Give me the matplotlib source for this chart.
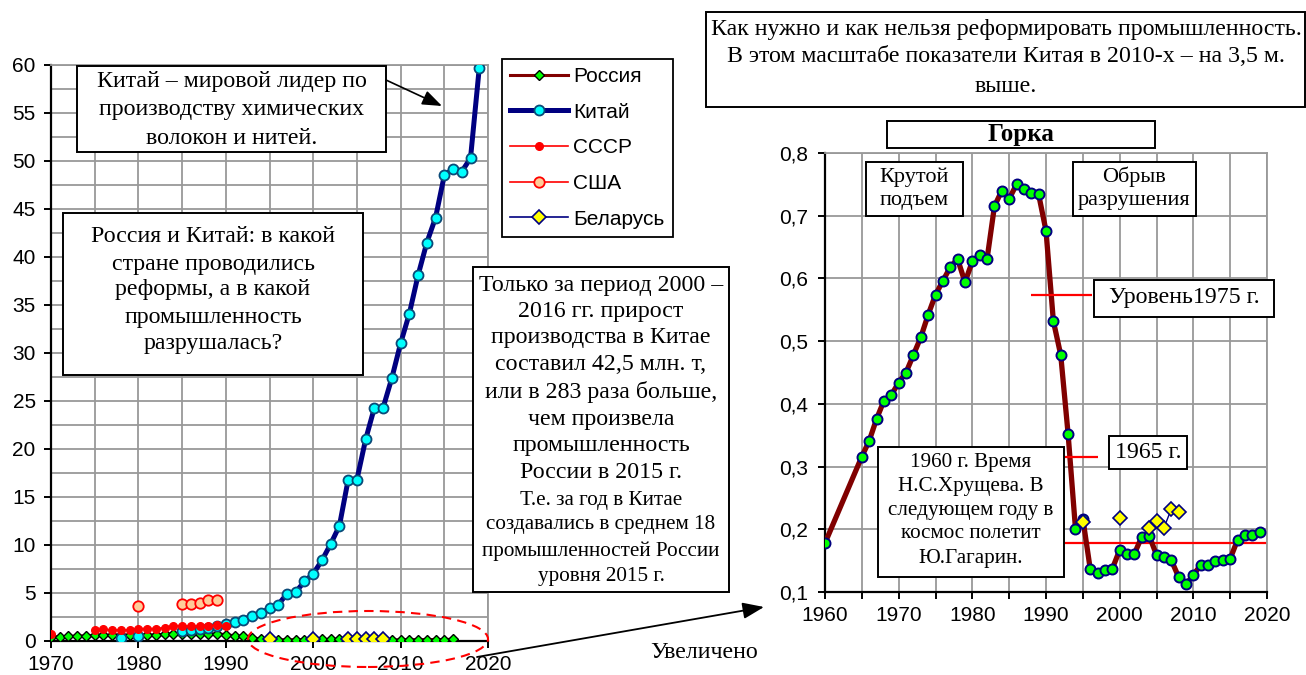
import numpy as np
import matplotlib
matplotlib.use('Agg')
import matplotlib.pyplot as plt
from matplotlib.patches import Rectangle, Ellipse, FancyArrowPatch
from matplotlib.ticker import MultipleLocator, FuncFormatter

nan = np.nan

# ---------------- data ----------------
russia_years = [1960] + list(range(1965, 2020))
russia_vals = [0.178,
               0.316, 0.341, 0.376, 0.405, 0.414,
               0.434, 0.450, 0.478, 0.506, 0.542, 0.574, 0.596, 0.618, 0.631, 0.594,
               0.627, 0.638, 0.631, 0.715, 0.740, 0.727, 0.750, 0.743, 0.737, 0.734,
               0.676, 0.532, 0.478, 0.352, 0.201, 0.217, 0.137, 0.130, 0.135, 0.137,
               0.167, 0.160, 0.161, 0.188, 0.190, 0.159, 0.156, 0.151, 0.124, 0.112,
               0.127, 0.143, 0.143, 0.150, 0.151, 0.153, 0.183, 0.191, 0.191, 0.195]

china_years = list(range(1978, 2020))
china_vals = [0.30, nan, 0.50, nan, nan, nan, nan,
              1.05, 1.15, 1.20, 1.40, 1.60, 1.77, 2.00, 2.20, 2.65, 2.90,
              3.40, 3.80, 4.90, 5.10, 6.20, 7.00, 8.40, 10.1, 12.0, 16.8,
              16.8, 21.0, 24.3, 24.3, 27.4, 31.0, 34.1, 38.1, 41.5, 44.1,
              48.5, 49.2, 48.9, 50.3, 59.7]

ussr_years = list(range(1970, 1991))
ussr_vals = [0.70, nan, nan, nan, nan,
             1.15, 1.20, 1.15, 1.15, 1.15, 1.30, 1.30, 1.30, 1.40, 1.60,
             1.60, 1.55, 1.60, 1.60, 1.65, 1.60]

usa_years = list(range(1980, 1990))
usa_vals = [3.65, nan, nan, nan, nan, 3.90, 3.90, 4.00, 4.25, 4.25]

belarus_years = list(range(1995, 2009))
belarus_vals = [0.212, nan, nan, nan, nan, 0.218, nan, nan, nan,
                0.202, 0.213, 0.202, 0.232, 0.228]

left_xticks = [1970, 1980, 1990, 2000, 2010, 2020]
left_yticks = list(range(0, 61, 5))
right_xticks = [1960, 1970, 1980, 1990, 2000, 2010, 2020]
right_yticks = [0.1, 0.2, 0.3, 0.4, 0.5, 0.6, 0.7, 0.8]

series_names = ['Россия', 'Китай', 'СССР', 'США', 'Беларусь']

# ---------------- figure ----------------
W, H = 1306, 675
fig = plt.figure(figsize=(W / 100, H / 100), dpi=100, facecolor='white')
SANS = 'Liberation Sans'
SERIF = 'Liberation Serif'
GRID = '#999999'


def fx(x):
    return x / W


def fy(y):
    return 1 - y / H


def style_axes(ax):
    for s in ['left', 'bottom']:
        ax.spines[s].set_color('black')
        ax.spines[s].set_linewidth(1.6)
    for s in ['top', 'right']:
        ax.spines[s].set_color(GRID)
        ax.spines[s].set_linewidth(1.3)
    ax.grid(which='both', color=GRID, lw=1.3)
    ax.set_axisbelow(True)
    for lab in ax.get_xticklabels() + ax.get_yticklabels():
        lab.set_fontfamily(SANS)


# ---------- left chart ----------
ax1 = fig.add_axes([fx(51), fy(641), fx(488) - fx(51), fy(65) - fy(641)])
ax1.set_xlim(1970, 2020)
ax1.set_ylim(0, 60)
ax1.set_xticks(left_xticks)
ax1.set_yticks(left_yticks)
ax1.xaxis.set_minor_locator(MultipleLocator(5))
ax1.yaxis.set_minor_locator(MultipleLocator(2.5))
ax1.tick_params(which='major', direction='out', length=5, width=1.4,
                labelsize=15, pad=5)
ax1.tick_params(axis='y', which='major', pad=6)
ax1.tick_params(which='minor', length=0)

ry = np.array(russia_years)
rv = np.array(russia_vals)
mask = (ry >= 1970) & (ry <= 2016)
l_rus, = ax1.plot(ry[mask], rv[mask], color='#800000', lw=2.2, marker='D',
                  ms=5.5, mfc='#00FF00', mec='black', mew=1.0, zorder=3,
                  label=series_names[0])
l_chn, = ax1.plot(china_years, china_vals, color='#000080', lw=3.6, marker='o',
                  ms=7.2, mfc='#00FFFF', mec='#0A4A78', mew=1.3, zorder=4,
                  label=series_names[1])
l_ussr, = ax1.plot(ussr_years, ussr_vals, color='#FF0000', lw=1.2, marker='o',
                   ms=5.5, mfc='#FF0000', mec='#FF0000', mew=1.0, zorder=5,
                   label=series_names[2])
l_usa, = ax1.plot(usa_years, usa_vals, color='#FF0000', lw=1.2, marker='o',
                  ms=7.5, mfc='#FFCC99', mec='#FF0000', mew=1.3, zorder=6,
                  label=series_names[3])
l_bel, = ax1.plot(belarus_years, belarus_vals, color='#000080', lw=1.2,
                  marker='D', ms=7.5, mfc='#FFFF00', mec='#000080', mew=1.2,
                  zorder=7, label=series_names[4])
style_axes(ax1)

leg = ax1.legend(handles=[l_rus, l_chn, l_ussr, l_usa, l_bel],
                 loc='upper left', bbox_to_anchor=(fx(502), fy(59)),
                 bbox_transform=fig.transFigure, borderaxespad=0,
                 prop={'family': SANS, 'size': 15}, handlelength=2.8,
                 handletextpad=0.25, labelspacing=0.80, borderpad=0.38,
                 fancybox=False, framealpha=1, edgecolor='black')
leg.get_frame().set_linewidth(1.3)
leg.set_zorder(20)

# ---------- right chart ----------
ax2 = fig.add_axes([fx(825), fy(592), fx(1267) - fx(825), fy(153) - fy(592)])
ax2.set_xlim(1960, 2020)
ax2.set_ylim(0.1, 0.8)
ax2.set_xticks(right_xticks)
ax2.set_yticks(right_yticks)
ax2.xaxis.set_minor_locator(MultipleLocator(5))
ax2.yaxis.set_major_formatter(FuncFormatter(lambda v, p: f'{v:.1f}'.replace('.', ',')))
ax2.tick_params(which='both', direction='out', length=5, width=1.4,
                labelsize=15, pad=5)
ax2.tick_params(axis='y', which='major', pad=7)
ax2.tick_params(axis='y', which='minor', length=0)

ax2.plot(russia_years, russia_vals, color='#800000', lw=3.8, zorder=3,
         solid_joinstyle='round')
ax2.plot(russia_years, russia_vals, ls='none', marker='o', ms=7.2,
         mfc='#00FF00', mec='#000080', mew=1.4, zorder=4)
ax2.plot(belarus_years, belarus_vals, color='#000080', lw=1.0, marker='D',
         ms=7.5, mfc='#FFFF00', mec='#000080', mew=1.2, zorder=5)

val = dict(zip(russia_years, russia_vals))
ax2.hlines(val[1960], 1992.6, 2020, color='#FF0000', lw=1.6, zorder=2.5)
ax2.hlines(val[1975], 1987.9, 1996.3, color='#FF0000', lw=1.6, zorder=6)
ax2.hlines(val[1965], 1992.6, 1997.0, color='#FF0000', lw=1.6, zorder=6)
style_axes(ax2)


# ---------- text boxes ----------
def box(x0, y0, x1, y1, lw=1.4):
    fig.add_artist(Rectangle((fx(x0), fy(y1)), fx(x1) - fx(x0), fy(y0) - fy(y1),
                             transform=fig.transFigure, facecolor='white',
                             edgecolor='black', lw=lw, zorder=8))


def lines(xc, ys, texts, size, weight='normal'):
    for y, t in zip(ys, texts):
        fig.text(fx(xc), fy(y), t, ha='center', va='center', fontsize=size,
                 family=SERIF, weight=weight, zorder=9)


FS = 17.2
FS_S = 15.2

box(77, 66, 386, 152)
lines(232, [82, 110, 138],
      ['Китай – мировой лидер по', 'производству химических', 'волокон и нитей.'], FS)

box(63, 213, 363, 375)
lines(213, [237, 264, 290, 318, 344],
      ['Россия и Китай: в какой', 'стране проводились', 'реформы, а в какой',
       'промышленность', 'разрушалась?'], FS)

box(473, 267, 729, 592)
lines(601, [285, 312, 338, 365, 392, 419, 446, 473],
      ['Только за период 2000 –', '2016 гг. прирост', 'производства в Китае',
       'составил 42,5 млн. т,', 'или в 283 раза больше,', 'чем произвела',
       'промышленность', 'России в 2015 г.'], FS)
lines(601, [500, 525, 551, 576],
      ['Т.е. за год в Китае', 'создавались в среднем 18',
       'промышленностей России', 'уровня 2015 г.'], FS_S)

box(706, 12, 1305, 107)
lines(1006, [30, 57, 86],
      ['Как нужно и как нельзя реформировать промышленность.',
       'В этом масштабе показатели Китая в 2010-х – на 3,5 м.', 'выше.'], FS)

box(887, 121, 1155, 148)
lines(1021, [134], ['Горка'], 18, weight='bold')

box(866, 162, 963, 216)
lines(914, [177, 201], ['Крутой', 'подъем'], 16)

box(1073, 162, 1196, 216)
lines(1134, [177, 201], ['Обрыв', 'разрушения'], 16)

box(1094, 280, 1274, 317)
lines(1184, [298], ['Уровень1975 г.'], FS)

box(1109, 436, 1187, 469)
lines(1148, [452], ['1965 г.'], FS)

box(878, 447, 1064, 577)
lines(971, [462, 486, 510, 534, 559],
      ['1960 г. Время', 'Н.С.Хрущева. В', 'следующем году в',
       'космос полетит', 'Ю.Гагарин.'], FS_S)

fig.text(fx(704), fy(652), 'Увеличено', ha='center', va='center',
         fontsize=FS, family=SERIF)

# ---------- arrows and ellipse ----------
fig.add_artist(FancyArrowPatch((fx(386), fy(80)), (fx(442), fy(106)),
                               transform=fig.transFigure,
                               arrowstyle='-|>,head_length=1.2,head_width=0.45',
                               mutation_scale=10, color='black', lw=1.2,
                               shrinkA=0, shrinkB=0, zorder=10))
fig.add_artist(FancyArrowPatch((fx(477), fy(657)), (fx(764), fy(607)),
                               transform=fig.transFigure,
                               arrowstyle='-|>,head_length=1.3,head_width=0.5',
                               mutation_scale=10, color='black', lw=1.3,
                               shrinkA=0, shrinkB=0, zorder=10))
fig.add_artist(Ellipse((fx(368), fy(639)), 240 / W, 56 / H,
                       transform=fig.transFigure, fill=False, edgecolor='#FF0000',
                       lw=1.5, ls=(0, (4.5, 3)), zorder=10))

fig.savefig('out.png', dpi=100, facecolor='white')
